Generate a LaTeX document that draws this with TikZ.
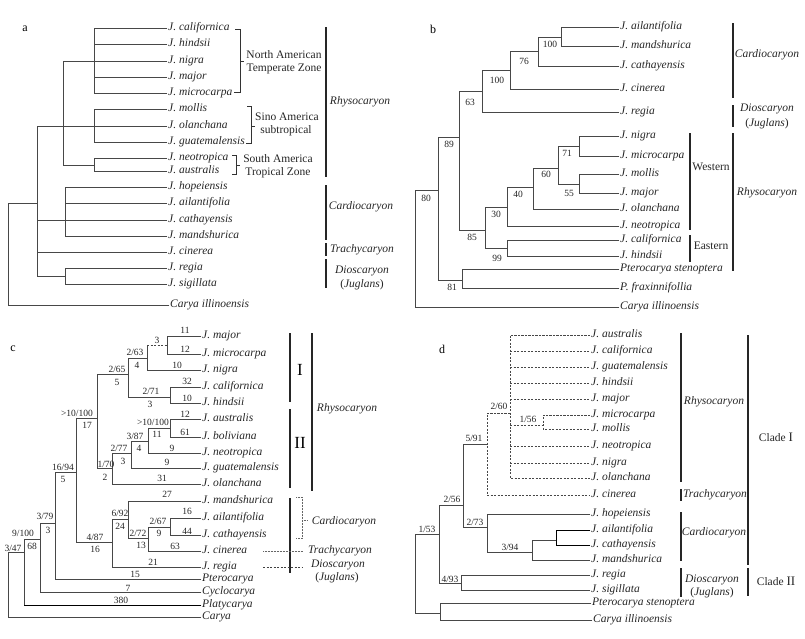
\documentclass[tikz,border=0pt]{standalone}
\usepackage{fontspec}
\setmainfont{Liberation Serif}
\begin{document}
\begin{tikzpicture}[x=1pt,y=-1pt,
  lf/.style={anchor=west, inner xsep=1pt, inner ysep=0pt, text height=7.5pt, text depth=2.5pt,
             font=\fontsize{11.5}{12}\selectfont\itshape, text=black!85},
  br/.style={line width=0.9pt, draw=black!72, line cap=rect, line join=miter},
  dsh/.style={dash pattern=on 2.2pt off 1.3pt, line cap=butt},
  bl/.style={font=\fontsize{9.5}{10}\selectfont, inner sep=0pt, text=black!85},
  gp/.style={font=\fontsize{11.5}{13}\selectfont, inner sep=0pt, align=center, text=black!85},
  gi/.style={font=\fontsize{11.5}{13}\selectfont\itshape, inner sep=0pt, align=center, text=black!85},
  bar/.style={line width=1.6pt, draw=black!85},
  brc/.style={line width=0.6pt, draw=black!80},
  dot/.style={line width=0.5pt, draw=black!60, densely dotted},
  pl/.style={font=\fontsize{12}{13}\selectfont, inner sep=0pt}]
\useasboundingbox (0,0) rectangle (805,638);
\fill[white] (0,0) rectangle (805,638);

% ================= Panel a =================
\node[pl] (la) at (25,29) {a};
\node[lf] (aCal) at (167,28) {J. californica};
\node[lf] (aHin) at (167,44) {J. hindsii};
\node[lf] (aNig) at (167,61) {J. nigra};
\node[lf] (aMaj) at (167,77) {J. major};
\node[lf] (aMic) at (167,93) {J. microcarpa};
\node[lf] (aMol) at (167,109) {J. mollis};
\node[lf] (aOla) at (167,126) {J. olanchana};
\node[lf] (aGua) at (167,142) {J. guatemalensis};
\node[lf] (aNeo) at (167,158) {J. neotropica};
\node[lf] (aAus) at (167,171) {J. australis};
\node[lf] (aHop) at (167,187) {J. hopeiensis};
\node[lf] (aAil) at (167,203) {J. ailantifolia};
\node[lf] (aCat) at (167,220) {J. cathayensis};
\node[lf] (aMan) at (167,236) {J. mandshurica};
\node[lf] (aCin) at (167,252) {J. cinerea};
\node[lf] (aReg) at (167,268) {J. regia};
\node[lf] (aSig) at (167,284) {J. sigillata};
\node[lf] (aCar) at (169,305) {Carya illinoensis};

\draw[br] (aCal.west) -- (94,28) -- (94,93) -- (aMic.west);
\draw[br] (94,44) -- (aHin.west);
\draw[br] (94,77) -- (aMaj.west);
\draw[br] (63,61) -- (aNig.west);
\draw[br] (aMol.west) -- (94,109) -- (94,142) -- (aGua.west);
\draw[br] (aNeo.west) -- (94,158) -- (94,171) -- (aAus.west);
\draw[br] (94,165) -- (63,165) -- (63,61);
\draw[br] (37,126) -- (aOla.west);
\draw[br] (aHop.west) -- (65,187) -- (65,236) -- (aMan.west);
\draw[br] (65,203) -- (aAil.west);
\draw[br] (37,220) -- (aCat.west);
\draw[br] (37,252) -- (aCin.west);
\draw[br] (aReg.west) -- (65,268) -- (65,284) -- (aSig.west);
\draw[br] (37,126) -- (37,276) -- (65,276);
\draw[br] (37,203) -- (8,203) -- (8,305) -- (aCar.west);

\draw[brc] (235,29) -- (240,29) -- (240,92) -- (234,92) (240,61) -- (244,61);
\node[gp] (naT1) at (284,55) {North American};
\node[gp] (naT2) at (284,69) {Temperate Zone};
\draw[brc] (247,106) -- (251,106) -- (251,143) -- (246,143) (251,126) -- (255,126);
\node[gp] (saT1) at (287,117) {Sino America};
\node[gp] (saT2) at (286,131) {subtropical};
\draw[brc] (232,155) -- (236,155) -- (236,174) -- (232,174) (236,165) -- (240,165);
\node[gp] (stT1) at (278,159) {South America};
\node[gp] (stT2) at (278,173) {Tropical Zone};

\draw[bar] (326,27) -- (326,177);
\node[gi] (aRh) at (360,102) {Rhysocaryon};
\draw[bar] (326,185) -- (326,240);
\node[gi] (aCd) at (361,207) {Cardiocaryon};
\draw[bar] (326,243) -- (326,256);
\node[gi] (aTr) at (362,250) {Trachycaryon};
\draw[bar] (326,259) -- (326,288);
\node[gi] (aDi) at (362,271) {Dioscaryon};
\node[gp] (aJu) at (362,285) {(\textit{Juglans})};

% ================= Panel b =================
\node[pl] (lb) at (433,29) {b};
\node[lf] (bAil) at (619,27) {J. ailantifolia};
\node[lf] (bMan) at (619,46) {J. mandshurica};
\node[lf] (bCat) at (619,66) {J. cathayensis};
\node[lf] (bCin) at (619,89) {J. cinerea};
\node[lf] (bReg) at (619,112) {J. regia};
\node[lf] (bNig) at (619,136) {J. nigra};
\node[lf] (bMic) at (619,156) {J. microcarpa};
\node[lf] (bMol) at (619,174) {J. mollis};
\node[lf] (bMaj) at (619,193) {J. major};
\node[lf] (bOla) at (619,209) {J. olanchana};
\node[lf] (bNeo) at (619,226) {J. neotropica};
\node[lf] (bCal) at (619,240) {J. californica};
\node[lf] (bHin) at (619,256) {J. hindsii};
\node[lf] (bPte) at (619,269) {Pterocarya stenoptera};
\node[lf] (bPfr) at (619,288) {P. fraxinnifollia};
\node[lf] (bCar) at (619,307) {Carya illinoensis};

\draw[br] (bAil.west) -- (561,27) -- (561,46) -- (bMan.west);
\draw[br] (561,37) -- (538,37) -- (538,66) -- (bCat.west);
\draw[br] (538,51) -- (510,51) -- (510,89) -- (bCin.west);
\draw[br] (510,70) -- (482,70) -- (482,112) -- (bReg.west);
\draw[br] (482,91) -- (459,91) -- (459,230) -- (485,230);
\draw[br] (459,137) -- (438,137) -- (438,280) -- (462,280);
\draw[br] (485,207) -- (485,248);
\draw[br] (485,207) -- (507,207) -- (507,226) -- (bNeo.west);
\draw[br] (507,207) -- (507,187) -- (533,187) -- (533,209) -- (bOla.west);
\draw[br] (533,187) -- (533,168) -- (558,168) -- (558,184);
\draw[br] (558,168) -- (558,146) -- (579,146);
\draw[br] (bNig.west) -- (579,136) -- (579,156) -- (bMic.west);
\draw[br] (558,184) -- (579,184);
\draw[br] (bMol.west) -- (579,174) -- (579,193) -- (bMaj.west);
\draw[br] (485,248) -- (507,248);
\draw[br] (bCal.west) -- (507,240) -- (507,256) -- (bHin.west);
\draw[br] (bPte.west) -- (462,269) -- (462,288) -- (bPfr.west);
\draw[br] (438,190) -- (415,190) -- (415,307) -- (bCar.west);

\node[bl] (b1) at (550,44) {100};
\node[bl] (b2) at (524,61) {76};
\node[bl] (b3) at (497,80) {100};
\node[bl] (b4) at (470,102) {63};
\node[bl] (b5) at (449,144) {89};
\node[bl] (b6) at (426,198) {80};
\node[bl] (b7) at (472,237) {85};
\node[bl] (b8) at (496,214) {30};
\node[bl] (b9) at (518,194) {40};
\node[bl] (b10) at (546,174) {60};
\node[bl] (b11) at (567,153) {71};
\node[bl] (b12) at (569,193) {55};
\node[bl] (b13) at (497,258) {99};
\node[bl] (b14) at (452,287) {81};

\draw[bar] (733,23) -- (733,98);
\node[gi] (bCd) at (767,55) {Cardiocaryon};
\draw[bar] (733,105) -- (733,127);
\node[gi] (bDi) at (767,109) {Dioscaryon};
\node[gp] (bJu) at (767,124) {(\textit{Juglans})};
\draw[bar] (733,133) -- (733,271);
\node[gi] (bRh) at (767,193) {Rhysocaryon};
\draw[bar] (690,133) -- (690,230);
\node[gp] (bWe) at (711,167) {Western};
\draw[bar] (690,235) -- (690,262);
\node[gp] (bEa) at (711,246) {Eastern};

% ================= Panel c =================
\node[pl] (lc) at (13,349) {c};
\node[lf] (cMaj) at (201,336) {J. major};
\node[lf] (cMic) at (201,354) {J. microcarpa};
\node[lf] (cNig) at (201,370) {J. nigra};
\node[lf] (cCal) at (201,387) {J. californica};
\node[lf] (cHin) at (201,403) {J. hindsii};
\node[lf] (cAus) at (201,419) {J. australis};
\node[lf] (cBol) at (201,437) {J. boliviana};
\node[lf] (cNeo) at (201,453) {J. neotropica};
\node[lf] (cGua) at (201,468) {J. guatemalensis};
\node[lf] (cOla) at (201,484) {J. olanchana};
\node[lf] (cMan) at (201,501) {J. mandshurica};
\node[lf] (cAil) at (201,518) {J. ailantifolia};
\node[lf] (cCat) at (201,535) {J. cathayensis};
\node[lf] (cCin) at (201,551) {J. cinerea};
\node[lf] (cReg) at (201,567) {J. regia};
\node[lf] (cPte) at (201,579) {Pterocarya};
\node[lf] (cCyc) at (201,592) {Cyclocarya};
\node[lf] (cPla) at (201,605) {Platycarya};
\node[lf] (cCar) at (201,617) {Carya};

\draw[br] (cMaj.west) -- (167,336) -- (167,354) -- (cMic.west);
\draw[br,dsh] (147,345) -- (167,345);
\draw[br] (147,345) -- (147,370) -- (cNig.west);
\draw[br] (147,358) -- (128,358) -- (128,397) -- (170,397);
\draw[br] (cCal.west) -- (170,387) -- (170,403) -- (cHin.west);
\draw[br] (128,374) -- (97,374) -- (97,468) -- (112,468);
\draw[br] (cAus.west) -- (170,419) -- (170,437) -- (cBol.west);
\draw[br] (170,428) -- (148,428) -- (148,453) -- (cNeo.west);
\draw[br] (148,441) -- (131,441) -- (131,468) -- (cGua.west);
\draw[br] (131,453) -- (112,453) -- (112,484) -- (cOla.west);
\draw[br] (97,418) -- (76,418) -- (76,542) -- (112,542);
\draw[br] (cMan.west) -- (128,501) -- (128,538) -- (148,538);
\draw[br] (cAil.west) -- (170,518) -- (170,535) -- (cCat.west);
\draw[br] (170,527) -- (148,527) -- (148,551) -- (cCin.west);
\draw[br] (128,519) -- (112,519) -- (112,567) -- (cReg.west);
\draw[br] (76,472) -- (55,472) -- (55,579) -- (cPte.west);
\draw[br] (55,523) -- (40,523) -- (40,592) -- (cCyc.west);
\draw[br] (40,539) -- (24,539) -- (24,605);
\draw[br,draw=black] (24,605) -- (cPla.west);
\draw[br] (24,552) -- (8,552) -- (8,617) -- (cCar.west);

\node[bl] (c1) at (185,330) {11};
\node[bl] (c2) at (185,349) {12};
\node[bl] (c3) at (157,340) {3};
\node[bl] (c4) at (177,365) {10};
\node[bl] (c5) at (135,352) {2/63};
\node[bl] (c6) at (137,365) {4};
\node[bl] (c7) at (117,369) {2/65};
\node[bl] (c8) at (117,382) {5};
\node[bl] (c9) at (187,381) {32};
\node[bl] (c10) at (187,398) {10};
\node[bl] (c11) at (151,391) {2/71};
\node[bl] (c12) at (150,404) {3};
\node[bl] (c13) at (77,413) {>10/100};
\node[bl] (c14) at (87,425) {17};
\node[bl] (c15) at (185,414) {12};
\node[bl] (c16) at (185,432) {61};
\node[bl] (c17) at (153,422) {>10/100};
\node[bl] (c18) at (157,434) {11};
\node[bl] (c19) at (172,448) {9};
\node[bl] (c20) at (135,436) {3/87};
\node[bl] (c21) at (139,448) {4};
\node[bl] (c22) at (167,462) {9};
\node[bl] (c23) at (119,448) {2/77};
\node[bl] (c24) at (123,461) {3};
\node[bl] (c25) at (162,478) {31};
\node[bl] (c26) at (106,464) {1/70};
\node[bl] (c27) at (105,477) {2};
\node[bl] (c28) at (63,467) {16/94};
\node[bl] (c29) at (63,479) {5};
\node[bl] (c30) at (167,494) {27};
\node[bl] (c31) at (187,511) {16};
\node[bl] (c32) at (187,531) {44};
\node[bl] (c33) at (158,521) {2/67};
\node[bl] (c34) at (159,533) {9};
\node[bl] (c35) at (175,546) {63};
\node[bl] (c36) at (138,533) {2/72};
\node[bl] (c37) at (141,545) {13};
\node[bl] (c38) at (120,513) {6/92};
\node[bl] (c39) at (120,526) {24};
\node[bl] (c40) at (95,537) {4/87};
\node[bl] (c41) at (95,549) {16};
\node[bl] (c42) at (153,562) {21};
\node[bl] (c43) at (135,574) {15};
\node[bl] (c44) at (128,588) {7};
\node[bl] (c45) at (121,600) {380};
\node[bl] (c46) at (45,516) {3/79};
\node[bl] (c47) at (48,530) {3};
\node[bl] (c48) at (23,533) {9/100};
\node[bl] (c49) at (32,546) {68};
\node[bl] (c50) at (13,548) {3/47};

\draw[bar] (290,333) -- (290,402);
\node[font=\fontsize{17}{18}\selectfont, inner sep=0pt] (cI) at (300,370) {I};
\draw[bar] (290,409) -- (290,488);
\node[font=\fontsize{17}{18}\selectfont, inner sep=0pt] (cII) at (300,443) {II};
\draw[bar] (312,333) -- (312,491);
\node[gi] (cRh) at (347,409) {Rhysocaryon};
\draw[bar] (290,498) -- (290,573);
\draw[dot] (296,497) -- (302,497) -- (302,538) -- (296,538) (302,520) -- (307,520);
\node[gi] (cCd) at (344,522) {Cardiocaryon};
\draw[dot] (263,551) -- (303,551);
\node[gi] (cTr) at (340,551) {Trachycaryon};
\draw[line width=0.6pt, draw=black!75, dash pattern=on 2pt off 1.5pt] (263,567) -- (303,567);
\node[gi] (cDi) at (338,565) {Dioscaryon};
\node[gp] (cJu) at (337,578) {(\textit{Juglans})};

% ================= Panel d =================
\node[pl] (ld) at (442,349) {d};
\node[lf] (dAus) at (590,335) {J. australis};
\node[lf] (dCal) at (590,351) {J. californica};
\node[lf] (dGua) at (590,367) {J. guatemalensis};
\node[lf] (dHin) at (590,383) {J. hindsii};
\node[lf] (dMaj) at (590,399) {J. major};
\node[lf] (dMic) at (590,415) {J. microcarpa};
\node[lf] (dMol) at (590,429) {J. mollis};
\node[lf] (dNeo) at (590,446) {J. neotropica};
\node[lf] (dNig) at (590,463) {J. nigra};
\node[lf] (dOla) at (590,478) {J. olanchana};
\node[lf] (dCin) at (590,495) {J. cinerea};
\node[lf] (dHop) at (590,514) {J. hopeiensis};
\node[lf] (dAil) at (590,530) {J. ailantifolia};
\node[lf] (dCat) at (590,545) {J. cathayensis};
\node[lf] (dMan) at (590,560) {J. mandshurica};
\node[lf] (dReg) at (590,575) {J. regia};
\node[lf] (dSig) at (590,590) {J. sigillata};
\node[lf] (dPte) at (591,603) {Pterocarya stenoptera};
\node[lf] (dCar) at (592,620) {Carya illinoensis};

\draw[br,dsh] (dAus.west) -- (510,335) -- (510,478) -- (dOla.west);
\foreach \n/\yy in {dCal/351,dGua/367,dHin/383,dMaj/399,dNeo/446,dNig/463}
  \draw[br,dsh] (510,\yy) -- (\n.west);
\draw[br,dsh] (510,425) -- (543,425);
\draw[br,dsh] (dMic.west) -- (543,415) -- (543,429) -- (dMol.west);
\draw[br,dsh] (510,413) -- (487,413) -- (487,495) -- (dCin.west);
\draw[br] (487,444) -- (463,444) -- (463,527) -- (487,527);
\draw[br] (dHop.west) -- (487,514) -- (487,552) -- (532,552);
\draw[br] (dMan.west) -- (532,560) -- (532,540) -- (556,540);
\draw[br,draw=black] (dAil.west) -- (556,530) -- (556,545) -- (dCat.west);
\draw[br] (463,505) -- (439,505) -- (439,583) -- (461,583);
\draw[br] (dReg.west) -- (461,575) -- (461,590) -- (dSig.west);
\draw[br] (439,534) -- (415,534) -- (415,613) -- (440,613);
\draw[br] (dPte.west) -- (440,603) -- (440,620) -- (dCar.west);

\node[bl] (d1) at (499,406) {2/60};
\node[bl] (d2) at (528,419) {1/56};
\node[bl] (d3) at (474,438) {5/91};
\node[bl] (d4) at (452,499) {2/56};
\node[bl] (d5) at (475,522) {2/73};
\node[bl] (d6) at (510,547) {3/94};
\node[bl] (d7) at (450,579) {4/93};
\node[bl] (d8) at (427,529) {1/53};

\draw[bar] (681,333) -- (681,482);
\node[gi] (dRh) at (714,402) {Rhysocaryon};
\draw[bar] (681,489) -- (681,501);
\node[gi] (dTr) at (715,495) {Trachycaryon};
\draw[bar] (681,512) -- (681,561);
\node[gi] (dCd) at (714,533) {Cardiocaryon};
\draw[bar] (681,568) -- (681,597);
\node[gi] (dDi) at (712,580) {Dioscaryon};
\node[gp] (dJu) at (712,593) {(\textit{Juglans})};
\draw[bar] (748,335) -- (748,565);
\node[gp] (dC1) at (776,437) {Clade {\fontsize{13}{14}\selectfont I}};
\draw[bar] (748,568) -- (748,596);
\node[gp] (dC2) at (776,581) {Clade {\fontsize{13}{14}\selectfont II}};
\end{tikzpicture}
\end{document}
